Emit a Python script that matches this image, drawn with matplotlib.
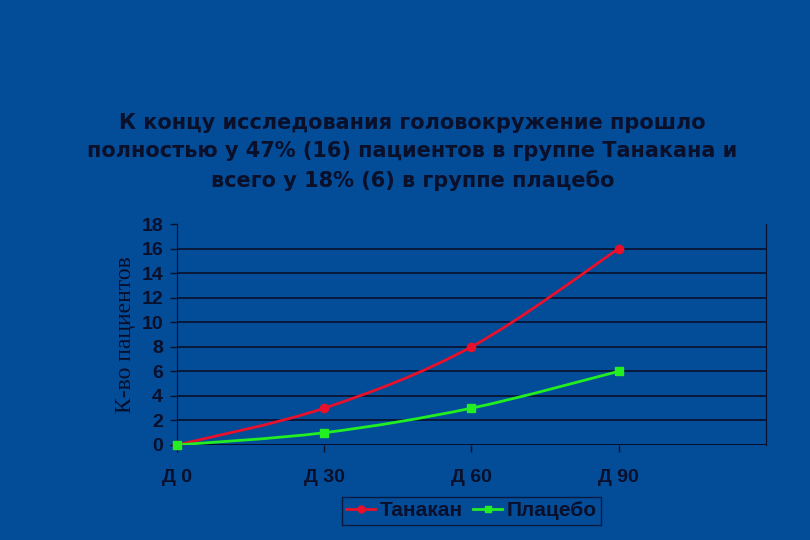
import matplotlib
matplotlib.use("Agg")
import matplotlib.pyplot as plt
from matplotlib.path import Path
from matplotlib.patches import PathPatch
from matplotlib.lines import Line2D

days = ["Д 0", "Д 30", "Д 60", "Д 90"]
tanakan = [0, 3, 8, 16]
placebo = [0, 1, 3, 6]
y_ticks = [0, 2, 4, 6, 8, 10, 12, 14, 16, 18]

BG = "#024c98"
INK = "#0a0f2a"
RED = "#e8102a"
GREEN = "#22ee22"


def smooth_path(xs, ys):
    # Catmull-Rom style bezier through the data points (Excel "smoothed line")
    verts = [(xs[0], ys[0])]
    codes = [Path.MOVETO]
    n = len(xs)
    for i in range(n - 1):
        x0, y0 = (xs[i - 1], ys[i - 1]) if i > 0 else (xs[i], ys[i])
        x1, y1 = xs[i], ys[i]
        x2, y2 = xs[i + 1], ys[i + 1]
        x3, y3 = (xs[i + 2], ys[i + 2]) if i + 2 < n else (x2, y2)
        c1 = (x1 + (x2 - x0) / 6, y1 + (y2 - y0) / 6)
        c2 = (x2 - (x3 - x1) / 6, y2 - (y3 - y1) / 6)
        verts += [c1, c2, (x2, y2)]
        codes += [Path.CURVE4] * 3
    return Path(verts, codes)


fig = plt.figure(figsize=(8.1, 5.4), dpi=100)
fig.patch.set_facecolor(BG)
ax = fig.add_axes([0.2185, 0.176, 0.727, 0.409])
ax.set_facecolor(BG)

xs = list(range(len(days)))
for vals, color, marker in [(tanakan, RED, "o"), (placebo, GREEN, "s")]:
    ax.add_patch(PathPatch(smooth_path(xs, vals), fill=False, edgecolor=color, lw=2, zorder=3))
    ax.plot(xs, vals, ls="none", marker=marker, ms=6, color=color, zorder=4, clip_on=False)

ax.set_xlim(0, 4)
ax.set_ylim(0, 18)
ax.set_xticks(xs)
ax.set_xticklabels(days)
ax.set_yticks(y_ticks)
ax.grid(True, axis="y", color=INK, lw=1.2)
ax.yaxis.get_gridlines()[-1].set_visible(False)
ax.set_axisbelow(True)
for side in ["top", "bottom"]:
    ax.spines[side].set_visible(False)
ax.spines["left"].set_color(INK)
ax.spines["right"].set_color(INK)
ax.axhline(0, color=INK, lw=1.2, zorder=2)
ax.tick_params(axis="both", colors=INK, length=5, width=1)
ax.tick_params(axis="x", pad=12)
ax.tick_params(axis="y", pad=5)
for lab in ax.get_xticklabels() + ax.get_yticklabels():
    lab.set_fontfamily("Liberation Sans")
    lab.set_fontweight("bold")
    lab.set_fontsize(14)
    lab.set_color(INK)

ax.set_ylabel("К-во пациентов", family="Liberation Serif", fontsize=17, color=INK, labelpad=4)

fig.text(0.509, 0.7185,
         "К концу исследования головокружение прошло\n"
         "полностью у 47% (16) пациентов в группе Танакана и\n"
         "всего у 18% (6) в группе плацебо",
         ha="center", va="center", family="DejaVu Sans", fontweight="bold",
         fontsize=15, color=INK, linespacing=1.5)

handles = [
    Line2D([], [], color=RED, marker="o", ms=5, lw=2),
    Line2D([], [], color=GREEN, marker="s", ms=5, lw=2),
]
leg = fig.legend(handles, ["Танакан", "Плацебо"], loc="center", bbox_to_anchor=(0.582, 0.054),
                 ncol=2, frameon=True, fancybox=False, handlelength=1.4, handletextpad=0.2,
                 columnspacing=0.5, borderpad=0.2,
                 prop={"family": "Liberation Sans", "weight": "bold", "size": 15})
leg.get_frame().set_facecolor(BG)
leg.get_frame().set_edgecolor(INK)
for t in leg.get_texts():
    t.set_color(INK)

fig.savefig("out.png", dpi=100, facecolor=BG)
